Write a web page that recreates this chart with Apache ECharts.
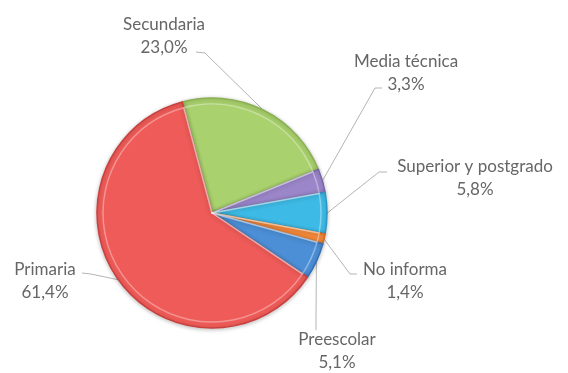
<!DOCTYPE html>
<html>
<head>
<meta charset="utf-8">
<script src="https://cdn.jsdelivr.net/npm/echarts@6/dist/echarts.min.js"></script>
<style>
  html, body { margin: 0; padding: 0; background: #fff; }
  #chart { width: 568px; height: 373px; }
</style>
</head>
<body>
<div id="chart"></div>
<script>
// niveles educativos, en el orden del pastel (horario desde arriba)
const categories = ['Secundaria', 'Media técnica', 'Superior y postgrado', 'No informa', 'Preescolar', 'Primaria'];
const values = [23.0, 3.3, 5.8, 1.4, 5.1, 61.4];
const valueLabels = ['23,0%', '3,3%', '5,8%', '1,4%', '5,1%', '61,4%'];

const colors = ['#A9D16D', '#9C86CA', '#3DBBE6', '#F4893B', '#4C8FD6', '#EE5B58'];
const edgeColors = ['#8BB052', '#7A66A8', '#2A98C2', '#D26C22', '#3570B4', '#C9403E'];

// posiciones de las etiquetas: centro del texto y codo de la linea
const labelPos = [
  { x: 164, y: 36, elbow: [205, 53], end: [196, 52] },
  { x: 406, y: 73, elbow: [375, 88], end: [382, 88] },
  { x: 475, y: 178, elbow: [379, 172], end: [387, 172] },
  { x: 405, y: 281, elbow: [350, 274], end: [357, 274] },
  { x: 337, y: 351, elbow: [316, 318], end: [316, 330] },
  { x: 45, y: 281, elbow: [91, 274], end: [82, 273] }
];

const chart = echarts.init(document.getElementById('chart'));

const data = categories.map((name, i) => ({
  name: name,
  value: values[i],
  itemStyle: { color: colors[i], borderColor: edgeColors[i] }
}));

const option = {
  animation: false,
  series: [
    {
      name: 'Nivel educativo',
      type: 'pie',
      center: [212, 213],
      radius: [0, 115],
      startAngle: 105,
      clockwise: true,
      itemStyle: {
        borderWidth: 1.5,
        shadowBlur: 4,
        shadowColor: 'rgba(0,0,0,0.25)',
        shadowOffsetY: 1
      },
      label: {
        show: true,
        formatter: p => p.name + '\n' + valueLabels[p.dataIndex],
        fontFamily: 'Lato',
        fontSize: 17,
        lineHeight: 23,
        color: '#666',
        align: 'center',
        overflow: 'none'
      },
      labelLine: {
        show: true,
        lineStyle: { color: '#b4b4b4', width: 1 }
      },
      labelLayout: function (params) {
        const lp = labelPos[params.dataIndex];
        const start = params.labelLinePoints ? params.labelLinePoints[0] : lp.elbow;
        return {
          x: lp.x,
          y: lp.y,
          width: 200,
          align: 'center',
          verticalAlign: 'middle',
          labelLinePoints: [start, lp.elbow, lp.end]
        };
      },
      emphasis: { disabled: true },
      data: data
    },
    {
      // brillo interior para el efecto de bisel
      type: 'pie',
      silent: true,
      center: [212, 213],
      radius: [0, 109],
      startAngle: 105,
      clockwise: true,
      label: { show: false },
      labelLine: { show: false },
      itemStyle: {
        color: 'rgba(0,0,0,0)',
        borderColor: 'rgba(255,255,255,0.35)',
        borderWidth: 1.5
      },
      emphasis: { disabled: true },
      data: categories.map((name, i) => ({ name: name, value: values[i] }))
    }
  ]
};

chart.setOption(option);
</script>
</body>
</html>
